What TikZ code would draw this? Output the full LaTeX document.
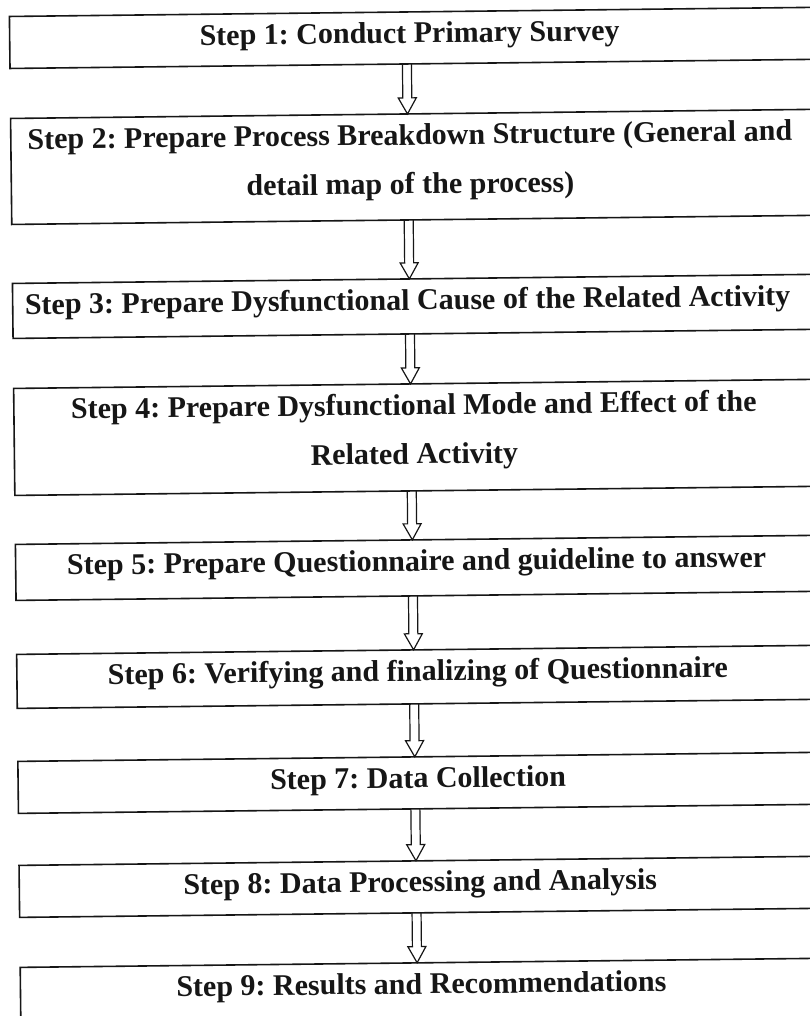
\documentclass[tikz,border=0pt]{standalone}
\usepackage{fontspec}
\setmainfont{Liberation Serif}
\usetikzlibrary{calc}
\definecolor{ink}{RGB}{22,22,22}
\frenchspacing
\tikzset{
  stepbox/.style={draw=ink, line width=1.6pt, rectangle, minimum width=815pt,
    outer sep=0pt, inner sep=0pt, anchor=north west},
  steptext/.style={text=ink, font=\bfseries\fontsize{30}{49}\selectfont,
    align=center, anchor=base, inner sep=0pt},
  flowarrow/.style={draw=ink, line width=1.2pt, line join=miter},
}
% hollow block arrow from coordinate #1 (tail) to coordinate #2 (tip)
\newcommand\stepconnector[2]{%
  \coordinate (head) at ($(#2)!16pt!(#1)$);
  \draw[flowarrow] ($(#1)!4.5pt!90:(#2)$) -- ($(head)!4.5pt!90:(#2)$)
    -- ($(head)!9pt!90:(#2)$) -- (#2) -- ($(head)!9pt!-90:(#2)$)
    -- ($(head)!4.5pt!-90:(#2)$) -- ($(#1)!4.5pt!-90:(#2)$);}
% tail point under box #1 and tip point on box #2
\newcommand\linksteps[2]{%
  \coordinate (out#1) at ($(s#1.south west)!397pt!(s#1.south east)$);
  \coordinate (in#2) at ($(s#2.north west)!397pt!(s#2.north east)$);
  \stepconnector{out#1}{in#2}}
\begin{document}
\begin{tikzpicture}[x=1pt,y=-1pt]
\useasboundingbox (0,0) rectangle (810,1016);
\fill[white] (0,0) rectangle (810,1016);
\clip (0,0) rectangle (810,1016);
\begin{scope}[rotate around={0.65:(405,508)}, transform shape]
  \node[stepbox, minimum height=52pt]  (s1) at (15,12) {};
  \node[stepbox, minimum height=106pt] (s2) at (15,114) {};
  \node[stepbox, minimum height=55pt]  (s3) at (15,279) {};
  \node[stepbox, minimum height=107pt] (s4) at (15,384) {};
  \node[stepbox, minimum height=56pt]  (s5) at (15,540) {};
  \node[stepbox, minimum height=54pt]  (s6) at (15,650) {};
  \node[stepbox, minimum height=52pt]  (s7) at (15,757) {};
  \node[stepbox, minimum height=52pt]  (s8) at (15,861) {};
  \node[stepbox, minimum height=90pt]  (s9) at (15,963) {};

  \node[steptext] (t1) at (415,43)  {Step 1: Conduct Primary Survey};
  \node[steptext] (t2) at (414,194) {Step 2: Prepare Process Breakdown Structure (General and\\detail map of the process)};
  \node[steptext] (t3) at (410,310) {Step 3: Prepare Dysfunctional Cause of the Related Activity};
  \node[steptext] (t4) at (415,464) {Step 4: Prepare Dysfunctional Mode and Effect of the\\Related Activity};
  \node[steptext] (t5) at (416,571) {Step 5: Prepare Questionnaire and guideline to answer};
  \node[steptext] (t6) at (416,681) {Step 6: Verifying and finalizing of Questionnaire};
  \node[steptext] (t7) at (415,788) {Step 7: Data Collection};
  \node[steptext] (t8) at (416,892) {Step 8: Data Processing and Analysis};
  \node[steptext] (t9) at (416,994) {Step 9: Results and Recommendations};

  \linksteps{1}{2}
  \linksteps{2}{3}
  \linksteps{3}{4}
  \linksteps{4}{5}
  \linksteps{5}{6}
  \linksteps{6}{7}
  \linksteps{7}{8}
  \linksteps{8}{9}
\end{scope}
\end{tikzpicture}
\end{document}
